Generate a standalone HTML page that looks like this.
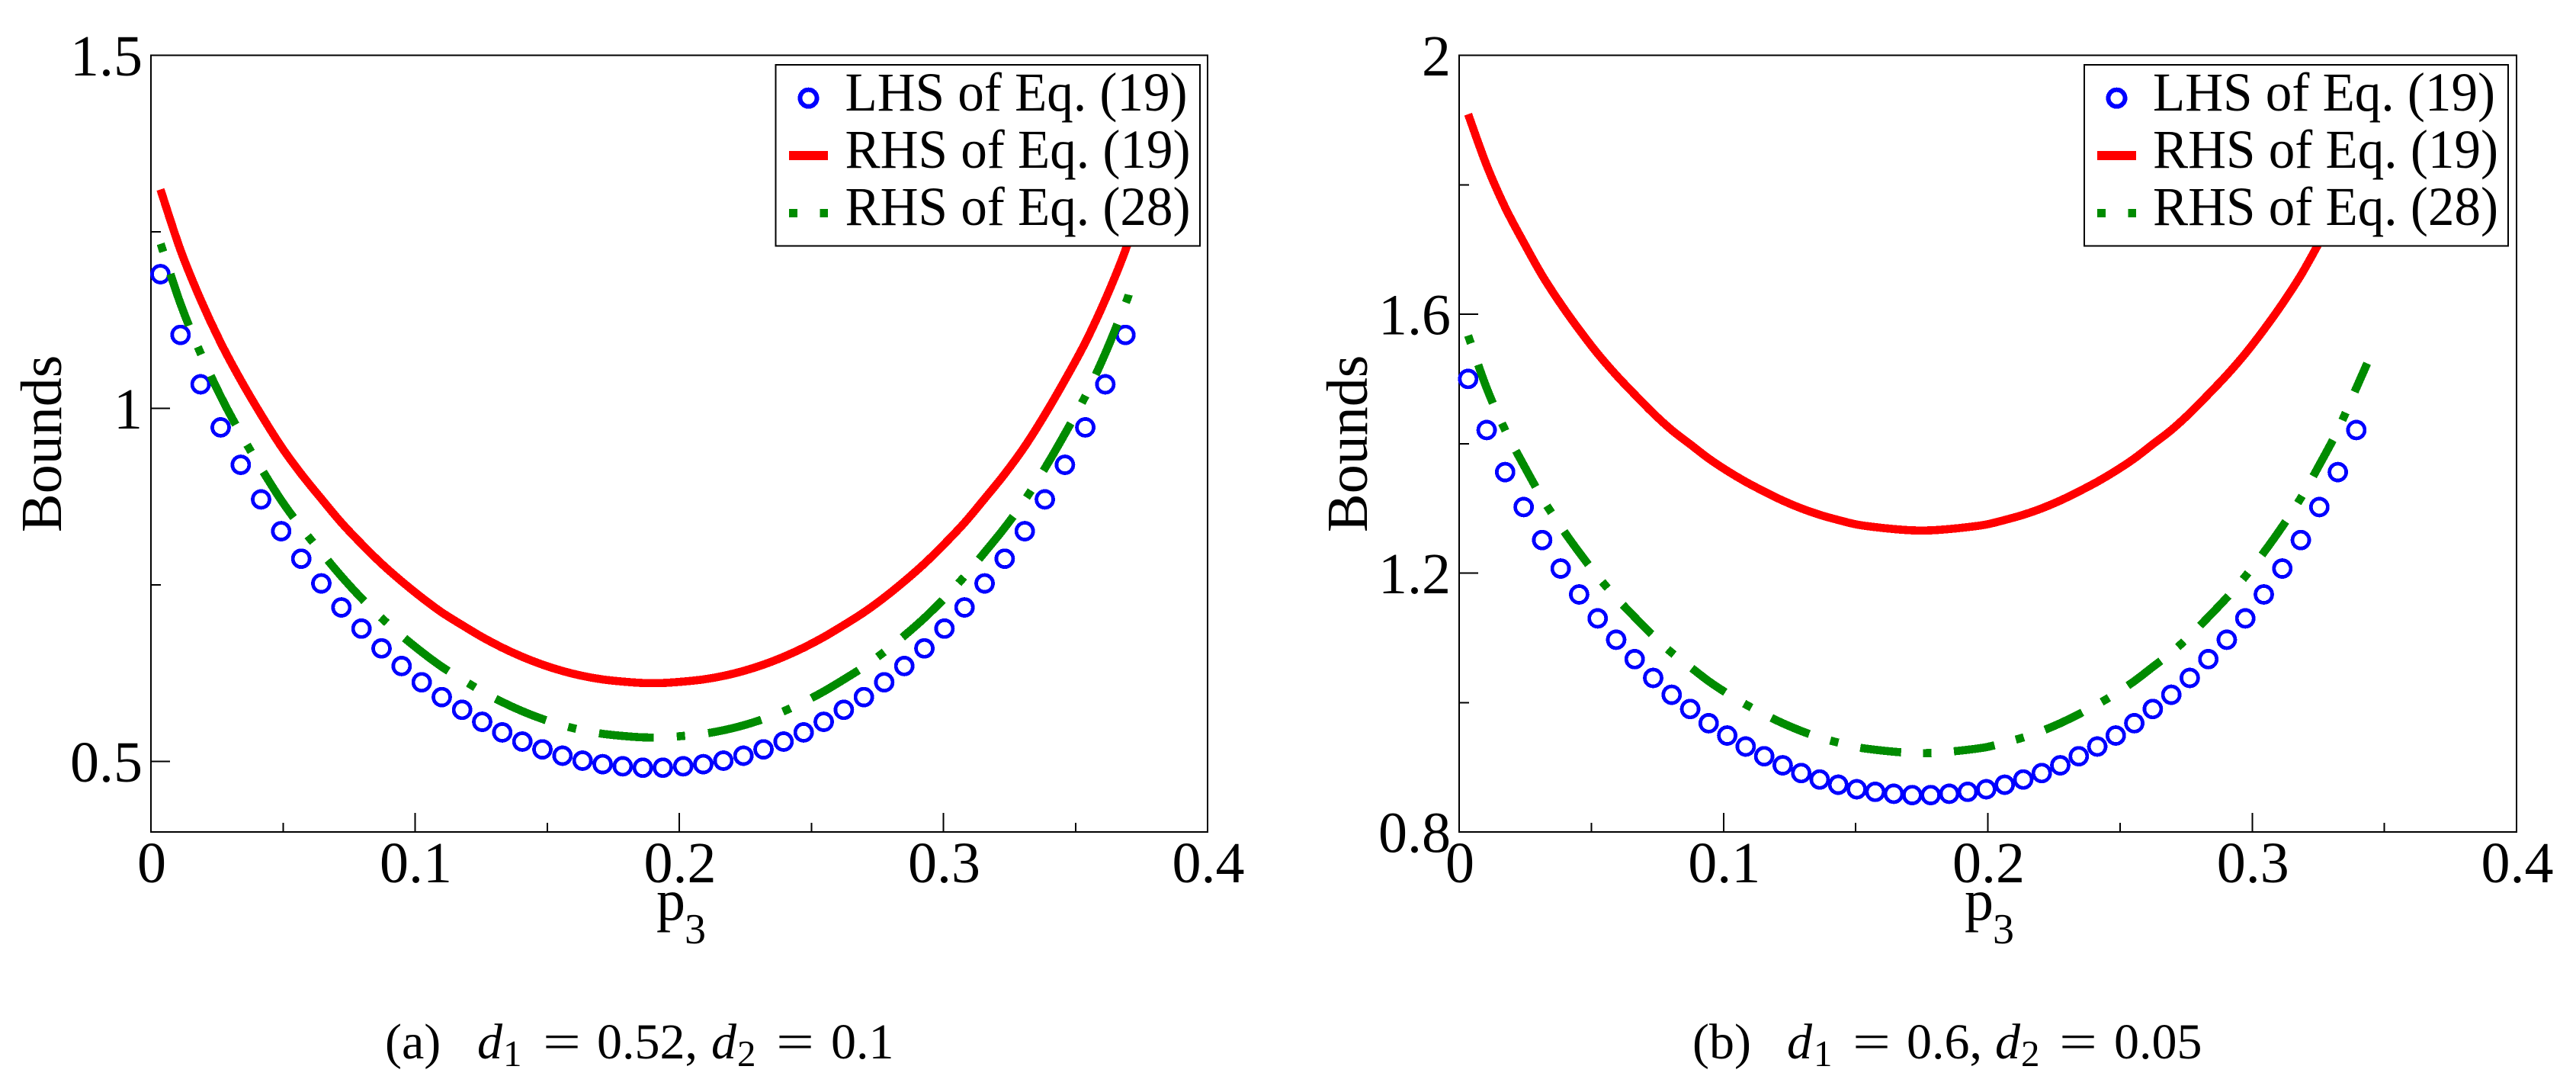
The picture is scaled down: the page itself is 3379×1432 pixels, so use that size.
<!DOCTYPE html>
<html lang="en">
<head>
<meta charset="utf-8">
<title>Bounds vs p3</title>
<style>
html,body{margin:0;padding:0;background:#fff;width:3379px;height:1432px;overflow:hidden}
svg{display:block}
rect,line,circle,path{shape-rendering:crispEdges}
text{font-family:"Liberation Serif",serif;fill:#000}
.cap{font-size:66px}
.sub{font-size:49px}
.it{font-style:italic}
</style>
</head>
<body>
<svg id="figure" xmlns="http://www.w3.org/2000/svg" width="3379" height="1432" viewBox="0 0 3379 1432">
  <rect width="3379" height="1432" fill="#fff"/>
  <g id="panel-a"></g>
  <g id="panel-b"></g>
  <g>
    <text class="cap" x="505" y="1388">(a)</text>
    <text class="cap it" x="626" y="1388">d</text>
    <text class="sub" x="660" y="1398">1</text>
    <text class="cap" x="712" y="1388" textLength="50" lengthAdjust="spacingAndGlyphs">=</text>
    <text class="cap" x="783" y="1388">0.52,</text>
    <text class="cap it" x="933" y="1388">d</text>
    <text class="sub" x="967" y="1398">2</text>
    <text class="cap" x="1018" y="1388" textLength="50" lengthAdjust="spacingAndGlyphs">=</text>
    <text class="cap" x="1090" y="1388">0.1</text>
  </g>
  <g>
    <text class="cap" x="2220" y="1388">(b)</text>
    <text class="cap it" x="2344" y="1388">d</text>
    <text class="sub" x="2379" y="1398">1</text>
    <text class="cap" x="2430" y="1388" textLength="50" lengthAdjust="spacingAndGlyphs">=</text>
    <text class="cap" x="2501" y="1388">0.6,</text>
    <text class="cap it" x="2617" y="1388">d</text>
    <text class="sub" x="2651" y="1398">2</text>
    <text class="cap" x="2701" y="1388" textLength="50" lengthAdjust="spacingAndGlyphs">=</text>
    <text class="cap" x="2773" y="1388">0.05</text>
  </g>
</svg>
<script>
// ---- Panel (a) data ----
const p3A = [0.0036,0.0112,0.0188,0.0264,0.0340,0.0417,0.0493,0.0569,0.0645,0.0721,0.0797,0.0873,0.0949,0.1025,0.1101,0.1178,0.1254,0.1330,0.1406,0.1482,0.1558,0.1634,0.1710,0.1786,0.1862,0.1938,0.2015,0.2091,0.2167,0.2243,0.2319,0.2395,0.2471,0.2547,0.2623,0.2699,0.2776,0.2852,0.2928,0.3004,0.3080,0.3156,0.3232,0.3308,0.3384,0.3460,0.3537,0.3613,0.3689];
const lhs19A = [1.190,1.104,1.034,0.973,0.920,0.871,0.826,0.787,0.752,0.718,0.688,0.660,0.635,0.612,0.591,0.573,0.556,0.541,0.528,0.517,0.508,0.501,0.496,0.493,0.491,0.491,0.493,0.496,0.501,0.508,0.517,0.528,0.541,0.556,0.573,0.591,0.612,0.635,0.660,0.688,0.718,0.752,0.787,0.826,0.871,0.920,0.973,1.034,1.104];
const rhs19A = [1.310,1.224,1.154,1.093,1.040,0.991,0.946,0.907,0.872,0.838,0.808,0.780,0.755,0.732,0.711,0.693,0.676,0.661,0.648,0.637,0.628,0.621,0.616,0.613,0.611,0.611,0.613,0.616,0.621,0.628,0.637,0.648,0.661,0.676,0.693,0.711,0.732,0.755,0.780,0.808,0.838,0.872,0.907,0.946,0.991,1.040,1.093,1.154,1.224,1.310];
const rhs28A = [1.234,1.148,1.078,1.017,0.964,0.915,0.870,0.831,0.796,0.762,0.731,0.703,0.678,0.655,0.634,0.616,0.599,0.584,0.571,0.560,0.551,0.544,0.539,0.536,0.534,0.534,0.536,0.539,0.544,0.551,0.560,0.571,0.584,0.599,0.616,0.634,0.655,0.678,0.703,0.731,0.762,0.796,0.831,0.870,0.915,0.964,1.017,1.078,1.148,1.163];
const rhs19TailA = [0.3765];
const rhs28TailA = [0.3703];
const yMajorA = [0.5,1,1.5];
const yMajorLabelsA = ["0.5","1","1.5"];
const yMinorA = [0.75,1.25];

// ---- Panel (b) data ----
const p3B = [0.0034,0.0104,0.0174,0.0244,0.0314,0.0384,0.0454,0.0524,0.0594,0.0664,0.0734,0.0804,0.0874,0.0944,0.1014,0.1084,0.1154,0.1224,0.1294,0.1364,0.1434,0.1504,0.1574,0.1644,0.1714,0.1784,0.1854,0.1924,0.1994,0.2064,0.2134,0.2204,0.2274,0.2344,0.2414,0.2484,0.2554,0.2624,0.2694,0.2764,0.2834,0.2904,0.2974,0.3044,0.3114,0.3184,0.3254,0.3324,0.3394];
const lhs19B = [1.500,1.421,1.356,1.302,1.251,1.207,1.167,1.130,1.097,1.067,1.038,1.012,0.990,0.968,0.949,0.932,0.917,0.903,0.891,0.881,0.873,0.866,0.862,0.859,0.857,0.857,0.859,0.862,0.866,0.873,0.881,0.891,0.903,0.917,0.932,0.949,0.968,0.990,1.012,1.038,1.067,1.097,1.130,1.167,1.207,1.251,1.302,1.356,1.421];
const rhs19B = [1.909,1.830,1.765,1.711,1.660,1.616,1.576,1.539,1.506,1.476,1.447,1.421,1.399,1.377,1.358,1.341,1.326,1.312,1.300,1.290,1.282,1.275,1.271,1.268,1.266,1.266,1.268,1.271,1.275,1.282,1.290,1.300,1.312,1.326,1.341,1.358,1.377,1.399,1.421,1.447,1.476,1.506,1.539,1.576,1.616,1.660,1.711,1.765,1.830];
const rhs28B = [1.567,1.486,1.421,1.367,1.316,1.272,1.232,1.195,1.162,1.132,1.103,1.077,1.055,1.033,1.014,0.997,0.982,0.968,0.956,0.946,0.938,0.931,0.927,0.924,0.922,0.922,0.924,0.927,0.931,0.938,0.946,0.956,0.968,0.982,0.997,1.014,1.033,1.055,1.077,1.103,1.132,1.162,1.195,1.232,1.272,1.316,1.367,1.421,1.486,1.524];
const rhs19TailB = [];
const rhs28TailB = [0.3435];
const yMajorB = [0.8,1.2,1.6,2];
const yMajorLabelsB = ["0.8","1.2","1.6","2"];
const yMinorB = [1.0,1.4,1.8];

// ---- Shared axis data ----
const xMajor = [0,0.1,0.2,0.3,0.4];
const xMajorLabels = ["0","0.1","0.2","0.3","0.4"];
const xMinor = [0.05,0.15,0.25,0.35];
const legendLabels = ["LHS of Eq. (19)","RHS of Eq. (19)","RHS of Eq. (28)"];

const NS = "http://www.w3.org/2000/svg";
function mk(parent, tag, attrs, txt){
  const el = document.createElementNS(NS, tag);
  for (const k in attrs) el.setAttribute(k, attrs[k]);
  if (txt !== undefined) el.textContent = txt;
  parent.appendChild(el);
  return el;
}
// Smooth curve (Catmull-Rom) through the data points
function smoothPath(xs, ys, sx, sy){
  const pts = ys.map((v,i)=>[sx(xs[i]), sy(v)]);
  let d = "M" + pts[0][0].toFixed(2) + " " + pts[0][1].toFixed(2);
  for (let i = 0; i < pts.length - 1; i++){
    const p0 = pts[Math.max(i-1,0)], p1 = pts[i], p2 = pts[i+1], p3 = pts[Math.min(i+2,pts.length-1)];
    const c1x = p1[0] + (p2[0]-p0[0])/6, c1y = p1[1] + (p2[1]-p0[1])/6;
    const c2x = p2[0] - (p3[0]-p1[0])/6, c2y = p2[1] - (p3[1]-p1[1])/6;
    d += " C" + c1x.toFixed(2) + " " + c1y.toFixed(2) + " " + c2x.toFixed(2) + " " + c2y.toFixed(2) + " " + p2[0].toFixed(2) + " " + p2[1].toFixed(2);
  }
  return d;
}

function drawPanel(o){
  const g = document.getElementById(o.id);
  const sx = v => o.left + (v - 0) / 0.4 * (o.right - o.left);
  const sy = v => o.bottom - (v - o.yMin) / (o.yMax - o.yMin) * (o.bottom - o.top);

  // axes frame
  const frame = mk(g, "rect", {x:o.left, y:o.top, width:o.right-o.left, height:o.bottom-o.top, fill:"#fff", stroke:"#000", "stroke-width":2});
  
  

  // x ticks
  xMajor.forEach((v,i)=>{
    if (v > 0 && v < 0.4){
      const t = mk(g, "line", {x1:sx(v), x2:sx(v), y1:o.bottom, y2:o.bottom-25, stroke:"#000", "stroke-width":2});
      
      
    }
    const l = mk(g, "text", {x:sx(v)+1, y:1157, "text-anchor":"middle", "font-size":76}, xMajorLabels[i]);
    
    
  });
  xMinor.forEach(v=>{
    const t = mk(g, "line", {x1:sx(v), x2:sx(v), y1:o.bottom, y2:o.bottom-12, stroke:"#000", "stroke-width":2});
    
    
  });

  // y ticks
  o.yMajor.forEach((v,i)=>{
    if (v > o.yMin && v < o.yMax){
      const t = mk(g, "line", {x1:o.left, x2:o.left+25, y1:sy(v), y2:sy(v), stroke:"#000", "stroke-width":2});
      
      
    }
    const l = mk(g, "text", {x:o.left-11, y:sy(v)+26.5, "text-anchor":"end", "font-size":76}, o.yLabels[i]);
    
    
  });
  o.yMinor.forEach(v=>{
    const t = mk(g, "line", {x1:o.left, x2:o.left+13, y1:sy(v), y2:sy(v), stroke:"#000", "stroke-width":2});
    
    
  });

  // axis titles
  const yt = mk(g, "text", {transform:"translate("+o.yTitleX+",698) rotate(-90)", "font-size":76}, "Bounds");
  
  
  const xt = mk(g, "text", {x:o.xTitleX, y:1206, "font-size":76}, "p");
  
  
  const xs = mk(g, "text", {x:o.xTitleX+37, y:1237, "font-size":56}, "3");
  
  

  // LHS markers
  o.lhs.forEach((v,i)=>{
    const c = mk(g, "circle", {cx:sx(o.x[i]), cy:sy(v), r:11, fill:"none", stroke:"#0000ff", "stroke-width":4.8});
    
    
  });

  // RHS of Eq. (19)
  const red = mk(g, "path", {d:smoothPath(o.x.concat(o.redTail), o.red, sx, sy), fill:"none", stroke:"#ff0000", "stroke-width":10.7});
  
  

  // RHS of Eq. (28)
  const green = mk(g, "path", {d:smoothPath(o.x.concat(o.greenTail), o.green, sx, sy), fill:"none", stroke:"#008b00", "stroke-width":10.7, "stroke-dasharray":o.greenDash, "stroke-dashoffset":o.greenOffset});
  
  

  // legend
  const lg = mk(g, "g", {});
  
  
  const box = mk(lg, "rect", {x:o.legL, y:85, width:o.legR-o.legL, height:237.5, fill:"#fff", stroke:"#000", "stroke-width":2});
  
  
  const mark = mk(lg, "circle", {cx:o.legKey+25.5, cy:128.7, r:11, fill:"none", stroke:"#0000ff", "stroke-width":6});
  
  
  const redKey = mk(lg, "line", {x1:o.legKey, x2:o.legKey+51, y1:204, y2:204, stroke:"#ff0000", "stroke-width":12});
  
  
  const greenKey = mk(lg, "line", {x1:o.legKey, x2:o.legKey+51, y1:279.5, y2:279.5, stroke:"#008b00", "stroke-width":11, "stroke-dasharray":"11 29.5 11 100"});
  
  
  legendLabels.forEach((s,i)=>{
    const t = mk(lg, "text", {x:o.legText, y:145+75*i, "font-size":72, textLength:i===0?449:453, lengthAdjust:"spacingAndGlyphs"}, s);
    
    
  });
}

drawPanel({id:"panel-a", left:198, right:1584, top:72.5, bottom:1091, yMin:0.4, yMax:1.5,
  x:p3A, lhs:lhs19A, red:rhs19A, green:rhs28A, redTail:rhs19TailA, greenTail:rhs28TailA,
  greenDash:"11 30.5 72 30.2", greenOffset:-1,
  yMajor:yMajorA, yLabels:yMajorLabelsA, yMinor:yMinorA,
  yTitleX:80, xTitleX:861, legL:1017.5, legR:1574, legKey:1035, legText:1108.5});
drawPanel({id:"panel-b", left:1914, right:3301, top:72.5, bottom:1091, yMin:0.8, yMax:2,
  x:p3B, lhs:lhs19B, red:rhs19B, green:rhs28B, redTail:rhs19TailB, greenTail:rhs28TailB,
  greenDash:"11 29.5 54 28.8", greenOffset:0,
  yMajor:yMajorB, yLabels:yMajorLabelsB, yMinor:yMinorB,
  yTitleX:1793, xTitleX:2577, legL:2734, legR:3290, legKey:2751, legText:2824});
</script>
</body>
</html>
